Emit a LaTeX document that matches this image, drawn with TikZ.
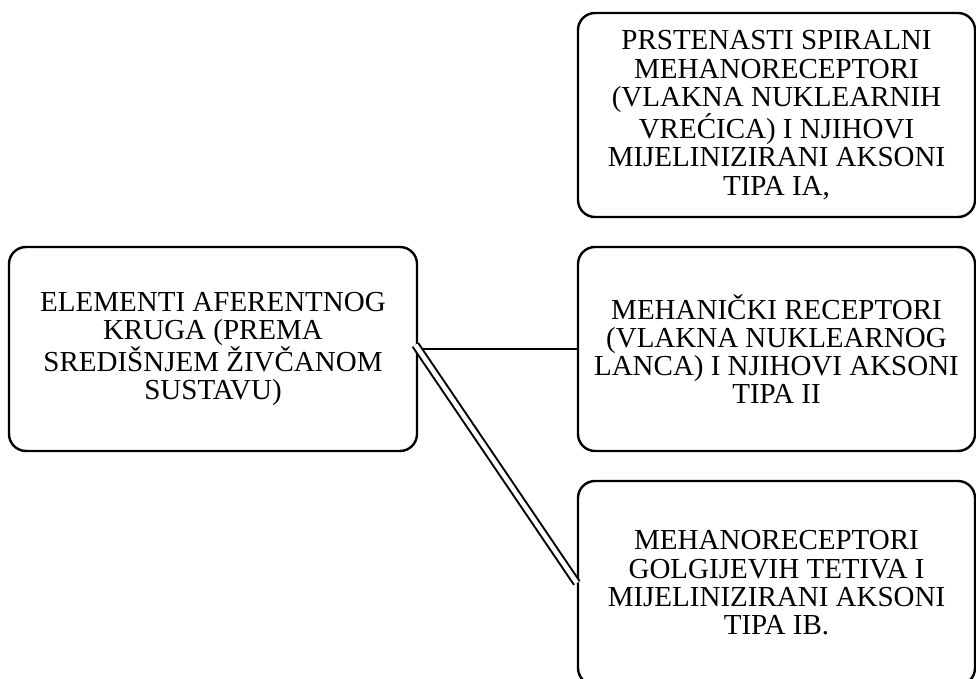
\documentclass[tikz,border=0pt]{standalone}
\usepackage{fontspec}
\setmainfont{Liberation Serif}
\begin{document}
\begin{tikzpicture}[x=1pt,y=1pt,
  box/.style={draw, line width=2.4pt, rounded corners=17pt, align=center,
    minimum height=204pt, inner sep=0pt,
    font=\fontsize{29}{28.3}\selectfont},
  conn/.style={line width=2pt}]
\useasboundingbox (0,0) rectangle (976,678);
\clip (0,0) rectangle (976,678);
\node[box, minimum width=408pt] (left) at (213,329)
  {ELEMENTI AFERENTNOG\\KRUGA (PREMA\\SREDIŠNJEM ŽIVČANOM\\SUSTAVU)};
\node[box, minimum width=397pt] (top) at (776.5,563)
  {PRSTENASTI SPIRALNI\\MEHANORECEPTORI\\(VLAKNA NUKLEARNIH\\VREĆICA) I NJIHOVI\\MIJELINIZIRANI AKSONI\\TIPA IA,};
\node[box, minimum width=397pt] (mid) at (776.5,329)
  {MEHANIČKI RECEPTORI\\(VLAKNA NUKLEARNOG\\LANCA) I NJIHOVI AKSONI\\TIPA II};
\node[box, minimum width=397pt] (bot) at (776.5,95)
  {MEHANORECEPTORI\\GOLGIJEVIH TETIVA I\\MIJELINIZIRANI AKSONI\\TIPA IB.};
\draw[conn] (left.east) -- (mid.west);
\draw[conn, double, double distance=4.6pt, shorten <=-5pt] (left.east) -- (bot.west);
\end{tikzpicture}
\end{document}
